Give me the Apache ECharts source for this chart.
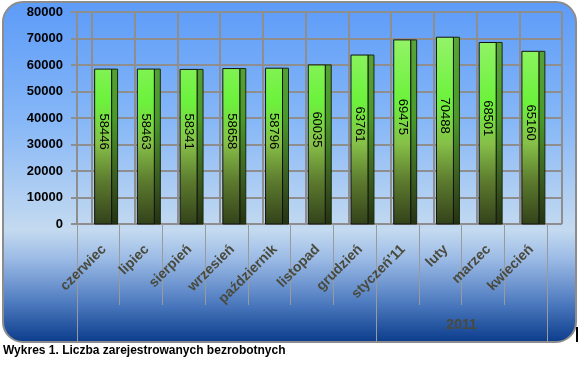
<!DOCTYPE html>
<html>
<head>
<meta charset="utf-8">
<script src="https://cdn.jsdelivr.net/npm/echarts@6/dist/echarts.min.js"></script>
<style>
html,body{margin:0;padding:0;background:#ffffff;}
#chart{width:581px;height:367px;}
</style>
</head>
<body>
<div id="chart"></div>
<script>
var categories = ['czerwiec','lipiec','sierpień','wrzesień','październik','listopad','grudzień','styczeń\'11','luty','marzec','kwiecień'];
var values = [58446, 58463, 58341, 58658, 58796, 60035, 63761, 69475, 70488, 68501, 65160];
var yTicks = [0, 10000, 20000, 30000, 40000, 50000, 60000, 70000, 80000];
var groupLabel = '2011';
var groupBounds = [0, 7, 11];
var groupLabelAt = [9];

var chart = echarts.init(document.getElementById('chart'), null, {renderer:'canvas'});
var gridColor = '#8e8e8e';
var frontGrad = new echarts.graphic.LinearGradient(0, 12, 0, 224, [
  {offset:0, color:'#a4f37a'},
  {offset:0.42, color:'#6cf23c'},
  {offset:0.62, color:'#86c048'},
  {offset:0.8, color:'#5c7a2e'},
  {offset:1, color:'#33421a'}
], true);
var sideGrad = new echarts.graphic.LinearGradient(0, 12, 0, 224, [
  {offset:0, color:'#5fa63e'},
  {offset:0.5, color:'#4a9a2a'},
  {offset:0.8, color:'#3a5a20'},
  {offset:1, color:'#253212'}
], true);

var option = {
  animation:false,
  graphic:[
    {type:'rect', z:-100, shape:{x:3, y:2, width:573, height:340, r:20},
     style:{fill:new echarts.graphic.LinearGradient(0,0,0,1,[
       {offset:0, color:'#5c9bf8'},
       {offset:0.35, color:'#86b7f7'},
       {offset:0.67, color:'#c4daf0'},
       {offset:0.76, color:'#98b8e4'},
       {offset:0.88, color:'#4f7cc0'},
       {offset:1, color:'#0a3b8b'}
     ]), stroke:'#8c8c8c', lineWidth:2}},
    {type:'rect', z:-50, shape:{x:576, y:327, width:2, height:15}, style:{fill:'#000'}},
    {type:'text', left:3, top:345, style:{text:'Wykres 1. Liczba zarejestrowanych bezrobotnych', font:'bold 12px "Liberation Sans", Arial, sans-serif', fill:'#000'}}
  ],
  grid:[
    {left:77, right:34, top:12, bottom:143},
    {left:92, right:19, top:12, bottom:143}
  ],
  xAxis:[
    {type:'category', gridIndex:0, data:categories, boundaryGap:true,
     axisLine:{show:true, lineStyle:{color:gridColor, width:2}},
     axisTick:{show:true, interval:0, length:81, lineStyle:{color:'#9a9a9a', width:1}},
     axisLabel:{interval:0, rotate:45, align:'right', verticalAlign:'top', padding:[0,-1,0,0], margin:19,
       color:'#4a4a3c', fontWeight:'bold', fontSize:14, fontFamily:'"Liberation Sans", Arial, sans-serif'},
     splitLine:{show:false}},
    {type:'value', gridIndex:0, min:0, max:11, interval:1, position:'bottom',
     axisLine:{show:false},
     axisTick:{show:true, customValues:groupBounds, length:118, lineStyle:{color:'#9a9a9a', width:1}},
     axisLabel:{show:true, customValues:groupLabelAt, margin:94, formatter:function(){return groupLabel;},
       color:'#4a4a3c', fontWeight:'bold', fontSize:14, fontFamily:'"Liberation Sans", Arial, sans-serif'},
     splitLine:{show:false}},
    {type:'value', gridIndex:1, min:0, max:11, interval:1,
     axisLine:{show:false}, axisTick:{show:false}, axisLabel:{show:false},
     splitLine:{show:true, lineStyle:{color:gridColor, width:2}}}
  ],
  yAxis:[
    {type:'value', gridIndex:0, min:yTicks[0], max:yTicks[yTicks.length-1], interval:yTicks[1]-yTicks[0],
     axisLine:{show:true, lineStyle:{color:gridColor, width:2}},
     axisTick:{show:true, length:6, lineStyle:{color:gridColor, width:2}},
     axisLabel:{margin:14, color:'#000', fontWeight:'bold', fontSize:13, fontFamily:'"Liberation Sans", Arial, sans-serif',
       formatter:function(v){return String(v);}},
     splitLine:{show:true, lineStyle:{color:gridColor, width:2}}},
    {type:'value', gridIndex:1, min:yTicks[0], max:yTicks[yTicks.length-1], interval:yTicks[1]-yTicks[0],
     axisLine:{show:false}, axisTick:{show:false}, axisLabel:{show:false},
     splitLine:{show:true, lineStyle:{color:gridColor, width:2}}}
  ],
  series:[{
    type:'custom', xAxisIndex:0, yAxisIndex:0, z:5,
    data: values.map(function(v,i){return [i,v];}),
    renderItem:function(params, api){
      var i = api.value(0), v = api.value(1);
      var top = api.coord([i, v]);
      var base = api.coord([i, 0]);
      var bw = api.size([1,0])[0];
      var cx = top[0];
      var x0 = cx - 0.087*bw, x1 = cx + 0.31*bw, x2 = cx + 0.45*bw;
      var mid = (top[1] + base[1]) / 2 - 15;
      return {type:'group', children:[
        {type:'rect', shape:{x:x1, y:top[1], width:x2-x1, height:base[1]-top[1]},
         style:{fill:sideGrad, stroke:'#1a2a0a', lineWidth:1}},
        {type:'rect', shape:{x:x0, y:top[1], width:x1-x0, height:base[1]-top[1]},
         style:{fill:frontGrad, stroke:'#111', lineWidth:1}},
        {type:'text', x:(x0+x1)/2, y:mid, rotation:-Math.PI/2,
         style:{text:String(v), x:0, y:0, align:'center', verticalAlign:'middle',
           fill:'#000', font:'13px "Liberation Sans", Arial, sans-serif'}}
      ]};
    }
  }]
};
chart.setOption(option);
</script>
</body>
</html>
